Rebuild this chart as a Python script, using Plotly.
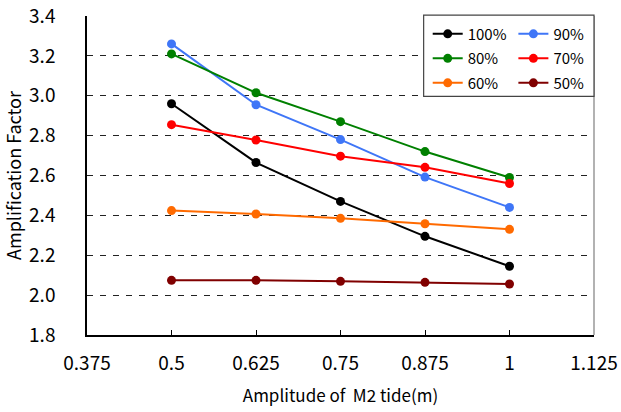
import plotly.graph_objects as go

# Amplitude of the M2 tide (m)
amplitude = [0.5, 0.625, 0.75, 0.875, 1.0]

# Amplification factor per case
series_names = ["100%", "90%", "80%", "70%", "60%", "50%"]
amp_100 = [2.96, 2.665, 2.47, 2.295, 2.145]
amp_90 = [3.26, 2.955, 2.78, 2.592, 2.44]
amp_80 = [3.21, 3.015, 2.87, 2.72, 2.59]
amp_70 = [2.855, 2.778, 2.697, 2.641, 2.56]
amp_60 = [2.424, 2.407, 2.385, 2.358, 2.33]
amp_50 = [2.074, 2.074, 2.069, 2.064, 2.056]
series_values = [amp_100, amp_90, amp_80, amp_70, amp_60, amp_50]
series_colors = ["#000000", "#3f76f7", "#008000", "#ff0000", "#ff6a00", "#800000"]

x_tick_vals = [0.375, 0.5, 0.625, 0.75, 0.875, 1.0, 1.125]
x_tick_text = ["0.375", "0.5", "0.625", "0.75", "0.875", "1", "1.125"]
y_tick_vals = [1.8, 2.0, 2.2, 2.4, 2.6, 2.8, 3.0, 3.2, 3.4]

FONT = "Noto Sans CJK JP, Liberation Sans, sans-serif"

fig = go.Figure()
for i, (name, vals, col) in enumerate(zip(series_names, series_values, series_colors)):
    fig.add_trace(go.Scatter(
        x=amplitude, y=vals, name=name, mode="lines+markers",
        line=dict(color=col, width=2),
        marker=dict(color=col, size=9),
        legend="legend" if i % 2 == 0 else "legend2",
        legendgroup=name,
    ))

legend_common = dict(
    bgcolor="rgba(0,0,0,0)", borderwidth=0,
    font=dict(family=FONT, size=15, color="#000"),
    tracegroupgap=2, itemwidth=30,
    xanchor="left", yanchor="top", yref="paper",
)

fig.update_layout(
    width=621, height=412,
    margin=dict(l=87, r=27, t=16, b=77, autoexpand=False),
    paper_bgcolor="white", plot_bgcolor="white",
    font=dict(family=FONT, size=16, color="#000"),
    legend=dict(x=0.672, y=0.995, **legend_common),
    legend2=dict(x=0.841, y=0.995, **legend_common),
    xaxis=dict(
        range=[0.375, 1.125], tickvals=x_tick_vals, ticktext=x_tick_text,
        ticks="inside", ticklen=5, tickcolor="#000", tickwidth=1,
        showline=True, linecolor="#000", linewidth=1.5,
        showgrid=False, zeroline=False, automargin=False,
        ticklabelstandoff=10,
        tickfont=dict(family=FONT, size=19),
        title=dict(text="Amplitude of  M2 tide(m)", font=dict(family=FONT, size=17), standoff=17),
    ),
    yaxis=dict(
        range=[1.8, 3.4], tickvals=y_tick_vals, tickformat=".1f",
        ticks="", showline=True, linecolor="#000", linewidth=1.5,
        showgrid=True, gridcolor="#222", griddash="6px,7px", gridwidth=1,
        zeroline=False, automargin=False, ticklabelstandoff=26,
        tickfont=dict(family=FONT, size=19),
        title=dict(text="Amplification Factor", font=dict(family=FONT, size=18), standoff=5),
    ),
    shapes=[
        # right frame edge
        dict(type="line", xref="paper", yref="paper", x0=1, x1=1, y0=0, y1=1,
             line=dict(color="#999", width=1.5)),
        # legend frame
        dict(type="rect", xref="paper", yref="paper", x0=0.664, x1=1.0, y0=0.748, y1=1.003,
             fillcolor="white", line=dict(color="#444", width=1.2), layer="above"),
    ],
)

fig.write_html("out.html")
